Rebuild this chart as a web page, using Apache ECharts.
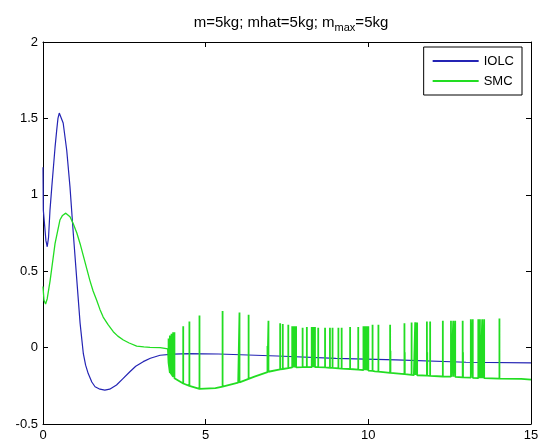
<!DOCTYPE html>
<html>
<head>
<meta charset="utf-8">
<script src="https://cdn.jsdelivr.net/npm/echarts@6/dist/echarts.min.js"></script>
<style>html,body{margin:0;padding:0;background:#fff;}#c{width:544px;height:446px;}</style>
</head>
<body>
<div id="c"></div>
<script>
// IOLC response
var iolcT = [0, 0.01, 0.05, 0.09, 0.13, 0.17, 0.215, 0.27, 0.32, 0.37, 0.42, 0.46, 0.5, 0.55, 0.62, 0.73, 0.83, 0.93, 1.04, 1.14, 1.24, 1.31, 1.39, 1.5, 1.6, 1.75, 1.9, 2.05, 2.26, 2.45, 2.67, 2.85, 3.08, 3.3, 3.6, 4.0, 4.5, 5.4, 5.45, 7.2, 7.25, 9.0, 10.85, 10.9, 13.0, 15.0];
var iolcV = [1.18, 0.9, 0.8, 0.7, 0.66, 0.72, 0.9, 1.05, 1.18, 1.31, 1.42, 1.5, 1.535, 1.525, 1.47, 1.29, 1.05, 0.75, 0.44, 0.16, -0.04, -0.115, -0.17, -0.225, -0.256, -0.272, -0.278, -0.272, -0.245, -0.205, -0.158, -0.122, -0.092, -0.07, -0.05, -0.043, -0.040, -0.042, -0.05, -0.055, -0.066, -0.07, -0.08, -0.09, -0.096, -0.1];

// SMC smooth part (before chattering starts)
var smcT = [0, 0.03, 0.08, 0.13, 0.22, 0.37, 0.52, 0.6, 0.7, 0.83, 0.93, 1.04, 1.14, 1.24, 1.34, 1.44, 1.54, 1.65, 1.75, 1.85, 2.0, 2.16, 2.3, 2.47, 2.65, 2.88, 3.1, 3.29, 3.6, 3.84];
var smcV = [0.40, 0.31, 0.285, 0.32, 0.44, 0.68, 0.835, 0.865, 0.88, 0.857, 0.81, 0.75, 0.68, 0.6, 0.52, 0.44, 0.37, 0.31, 0.25, 0.2, 0.15, 0.104, 0.075, 0.05, 0.03, 0.01, 0.005, 0.002, 0.0, -0.008];

// SMC lower envelope of the chattering part
var envT = [3.84, 3.9, 4.1, 4.31, 4.5, 4.81, 5.3, 6.0, 6.5, 6.9, 7.3, 7.7, 8.3, 8.7, 9.2, 9.75, 10.2, 10.67, 11.4, 12.4, 13.4, 14.7, 15.0];
var envV = [-0.008, -0.165, -0.21, -0.235, -0.25, -0.27, -0.265, -0.23, -0.19, -0.16, -0.142, -0.13, -0.127, -0.13, -0.137, -0.145, -0.155, -0.165, -0.18, -0.19, -0.2, -0.205, -0.21];

// SMC chattering spikes: time, top, bottom
var spikeT   = [3.86, 3.90, 3.95, 4.00, 4.04, 4.31, 4.50, 4.81, 5.52, 6.04, 6.32, 6.90, 6.93, 7.29, 7.37, 7.54, 7.66, 7.70, 7.71, 7.74, 7.78, 7.98, 8.11, 8.26, 8.29, 8.31, 8.32, 8.36, 8.46, 8.67, 8.82, 8.90, 9.08, 9.18, 9.44, 9.69, 9.85, 9.90, 9.92, 9.95, 10.0, 10.13, 10.31, 10.67, 10.68, 11.11, 11.12, 11.33, 11.44, 11.47, 11.48, 11.5, 11.8, 11.81, 11.9, 12.29, 12.54, 12.55, 12.61, 12.67, 12.9, 12.91, 13.15, 13.21, 13.38, 13.43, 13.45, 13.5, 13.52, 13.56, 14.03];
var spikeTop = [0.06, 0.08, 0.09, 0.10, 0.10, 0.14, 0.17, 0.21, 0.24, 0.23, 0.215, 0.01, 0.175, 0.16, 0.155, 0.15, 0.14, 0.14, -0.02, 0.14, 0.14, 0.13, 0.135, 0.135, 0.135, -0.03, 0.135, 0.135, 0.13, 0.13, 0.13, 0.13, 0.13, 0.13, 0.135, 0.135, 0.14, 0.14, -0.03, 0.14, 0.14, 0.15, 0.15, 0.15, -0.02, 0.16, -0.03, 0.165, 0.165, 0.165, -0.03, 0.165, 0.17, -0.03, 0.17, 0.175, 0.175, -0.03, 0.175, 0.175, 0.175, -0.03, 0.185, 0.185, 0.185, 0.185, -0.02, 0.185, -0.02, 0.185, 0.19];
var spikeBot = [-0.10, -0.16, -0.175, -0.19, -0.20, -0.235, -0.25, -0.27, -0.255, -0.228, -0.205, -0.16, -0.158, -0.143, -0.14, -0.135, -0.13, -0.13, -0.13, -0.13, -0.13, -0.128, -0.128, -0.128, -0.128, -0.128, -0.128, -0.128, -0.128, -0.13, -0.132, -0.133, -0.136, -0.138, -0.14, -0.144, -0.147, -0.148, -0.148, -0.149, -0.15, -0.153, -0.157, -0.165, -0.165, -0.173, -0.173, -0.178, -0.18, -0.18, -0.18, -0.181, -0.184, -0.184, -0.185, -0.189, -0.19, -0.19, -0.191, -0.191, -0.195, -0.195, -0.197, -0.198, -0.2, -0.2, -0.2, -0.2, -0.2, -0.2, -0.203];

var xTicks = {min: 0, max: 15, interval: 5};
var yTicks = {min: -0.5, max: 2, interval: 0.5};

var iolcData = iolcT.map(function (t, i) { return [t, iolcV[i]]; });
var smcSmooth = smcT.map(function (t, i) { return [t, smcV[i]]; });
var events = [];
envT.forEach(function (t, i) { events.push({t: t, pts: [[t, envV[i]]]}); });
spikeT.forEach(function (t, i) {
  events.push({t: t, pts: [[t, spikeBot[i]], [t, spikeTop[i]], [t, spikeBot[i]]]});
});
events.sort(function (a, b) { return a.t - b.t; });
var smcChatter = [];
events.forEach(function (e) { e.pts.forEach(function (p) { smcChatter.push(p); }); });

var FONT = 'Liberation Sans';
var blue = '#2424b4';
var green = '#22dd22';

function xAx(pos, showLabel) {
  return {
    type: 'value', position: pos, min: xTicks.min, max: xTicks.max, interval: xTicks.interval,
    axisLine: {show: true, onZero: false, lineStyle: {color: '#000', width: 1}},
    axisTick: {show: true, inside: true, length: 5, lineStyle: {color: '#000'}},
    axisLabel: {show: showLabel, color: '#000', fontSize: 13, fontFamily: FONT, margin: 5},
    splitLine: {show: false}
  };
}
function yAx(pos, showLabel) {
  return {
    type: 'value', position: pos, min: yTicks.min, max: yTicks.max, interval: yTicks.interval,
    axisLine: {show: true, onZero: false, lineStyle: {color: '#000', width: 1}},
    axisTick: {show: true, inside: true, length: 5, lineStyle: {color: '#000'}},
    axisLabel: {show: showLabel, color: '#000', fontSize: 13, fontFamily: FONT, margin: 5},
    splitLine: {show: false}
  };
}

var chart = echarts.init(document.getElementById('c'), null, {renderer: 'canvas'});
chart.setOption({
  animation: false,
  backgroundColor: '#fff',
  title: {
    text: '{a|m=5kg; mhat=5kg; m}{b|max}{a|=5kg}',
    left: 286, top: 8, textAlign: 'center',
    textStyle: {
      fontWeight: 'normal',
      rich: {
        a: {fontSize: 15, fontFamily: FONT, color: '#000', fontWeight: 'normal'},
        b: {fontSize: 11, fontFamily: FONT, color: '#000', fontWeight: 'normal', padding: [9, 0, 0, 0]}
      }
    }
  },
  grid: {left: 43, right: 13, top: 42, bottom: 22, containLabel: false, outerBoundsMode: 'none'},
  xAxis: [xAx('bottom', true), xAx('top', false)],
  yAxis: [yAx('left', true), yAx('right', false)],
  legend: {
    data: ['IOLC', 'SMC'], orient: 'vertical', right: 22, top: 47,
    padding: [7, 8, 7, 9], itemGap: 6, itemWidth: 46, itemHeight: 2, icon: 'rect',
    backgroundColor: '#fff', borderColor: '#000', borderWidth: 1, borderRadius: 0,
    textStyle: {fontSize: 13, color: '#000', fontFamily: FONT, lineHeight: 14},
    selectedMode: false
  },
  series: [
    {name: 'IOLC', type: 'line', data: iolcData, symbol: 'none', showSymbol: false, smooth: false,
     lineStyle: {color: blue, width: 1.2}, itemStyle: {color: blue}, silent: true, z: 2},
    {name: 'SMC', type: 'line', data: smcSmooth, symbol: 'none', showSymbol: false, smooth: false,
     lineStyle: {color: green, width: 1.3}, itemStyle: {color: green}, silent: true, z: 3},
    {name: 'SMC', type: 'line', data: smcChatter, symbol: 'none', showSymbol: false, smooth: false, sampling: null,
     lineStyle: {color: green, width: 1.8}, itemStyle: {color: green}, silent: true, z: 3}
  ]
});
</script>
</body>
</html>
